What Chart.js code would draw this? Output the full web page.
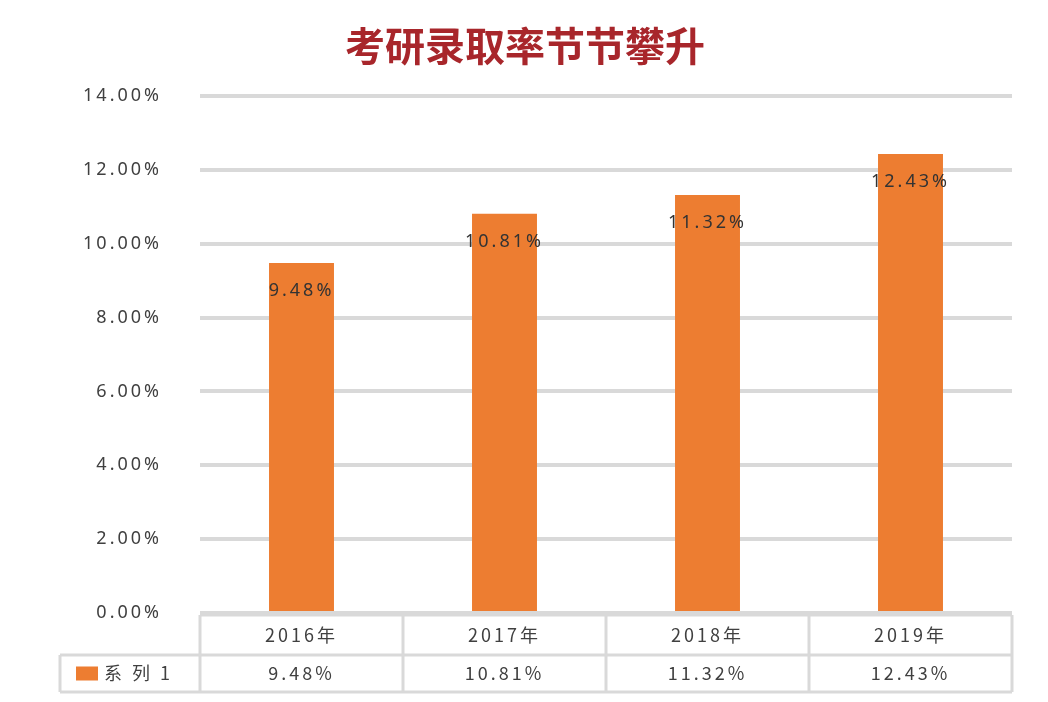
<!DOCTYPE html>
<html>
<head>
<meta charset="utf-8">
<script src="https://cdn.jsdelivr.net/npm/chart.js@4/dist/chart.umd.min.js"></script>
<style>
  html, body { margin: 0; padding: 0; background: #fff; }
  #wrap { width: 1048px; height: 702px; }
</style>
</head>
<body>
<div id="wrap"><canvas id="myChart"></canvas></div>
<script>
var categories = ["2016年", "2017年", "2018年", "2019年"];
var rates = [9.48, 10.81, 11.32, 12.43];
var seriesName = "系 列 1";
var chartTitle = "考研录取率节节攀升";

var gridColor = "#D9D9D9";
var barColor = "#ED7D31";
var textColor = "#404040";

function pct(v) {
  return v.toFixed(2) + "%";
}

// title, bar labels and the data table under the plot
var extras = {
  id: "extras",
  beforeDraw: function (chart) {
    chart.ctx.letterSpacing = "3px";
  },
  afterDatasetsDraw: function (chart) {
    var ctx = chart.ctx;
    var meta = chart.getDatasetMeta(0);
    ctx.save();
    ctx.letterSpacing = "3px";
    ctx.font = "18px 'Noto Sans', sans-serif";
    ctx.fillStyle = "#333";
    ctx.textAlign = "center";
    ctx.textBaseline = "middle";
    meta.data.forEach(function (bar, i) {
      ctx.fillText(pct(rates[i]), bar.x, bar.y + 28);
    });
    ctx.restore();
  },
  afterDraw: function (chart) {
    var ctx = chart.ctx;
    var area = chart.chartArea;
    var x = chart.scales.x;
    ctx.save();

    // title
    ctx.letterSpacing = "0px";
    ctx.font = "bold 40px 'Noto Sans CJK SC', sans-serif";
    ctx.fillStyle = "#A8262B";
    ctx.textAlign = "center";
    ctx.textBaseline = "middle";
    ctx.fillText(chartTitle, 525, 46);

    // table
    var row1 = area.bottom + 2, row2 = area.bottom + 42, row3 = area.bottom + 79;
    var legendLeft = 60;
    ctx.strokeStyle = gridColor;
    ctx.lineWidth = 3;
    ctx.beginPath();
    ctx.moveTo(area.left, row1); ctx.lineTo(area.right, row1);
    ctx.moveTo(legendLeft, row2); ctx.lineTo(area.right, row2);
    ctx.moveTo(legendLeft, row3); ctx.lineTo(area.right, row3);
    ctx.moveTo(legendLeft, row2); ctx.lineTo(legendLeft, row3);
    var half = (x.getPixelForValue(1) - x.getPixelForValue(0)) / 2;
    for (var i = 0; i <= categories.length; i++) {
      var bx = i < categories.length ? x.getPixelForValue(i) - half : x.getPixelForValue(i - 1) + half;
      ctx.moveTo(bx, row1); ctx.lineTo(bx, row3);
    }
    ctx.stroke();

    ctx.letterSpacing = "3px";
    ctx.font = "18px 'Noto Sans CJK SC', sans-serif";
    ctx.fillStyle = textColor;
    ctx.textAlign = "center";
    ctx.textBaseline = "middle";
    categories.forEach(function (c, i) {
      ctx.fillText(c, x.getPixelForValue(i), (row1 + row2) / 2);
      ctx.fillText(pct(rates[i]), x.getPixelForValue(i), (row2 + row3) / 2);
    });
    ctx.fillStyle = barColor;
    ctx.fillRect(76, (row2 + row3) / 2 - 7, 22, 14);
    ctx.fillStyle = textColor;
    ctx.textAlign = "left";
    ctx.fillText(seriesName, 104, (row2 + row3) / 2);
    ctx.restore();
  }
};

var ctx = document.getElementById("myChart").getContext("2d");
new Chart(ctx, {
  type: "bar",
  data: {
    labels: categories,
    datasets: [{
      label: seriesName,
      data: rates,
      backgroundColor: barColor,
      barPercentage: 0.32,
      categoryPercentage: 1
    }]
  },
  options: {
    responsive: true,
    maintainAspectRatio: false,
    animation: false,
    layout: { padding: { top: 96, bottom: 89, right: 36, left: 40 } },
    plugins: {
      legend: { display: false },
      tooltip: { enabled: false }
    },
    scales: {
      x: { display: false },
      y: {
        min: 0,
        max: 14,
        ticks: {
          stepSize: 2,
          color: textColor,
          padding: 38,
          font: { size: 18, family: "'Noto Sans', sans-serif" },
          callback: function (v) { return pct(v); }
        },
        border: { display: false },
        grid: { color: gridColor, lineWidth: 4, drawTicks: false },
        afterFit: function (s) { s.width = 160; }
      }
    }
  },
  plugins: [extras]
});
</script>
</body>
</html>
